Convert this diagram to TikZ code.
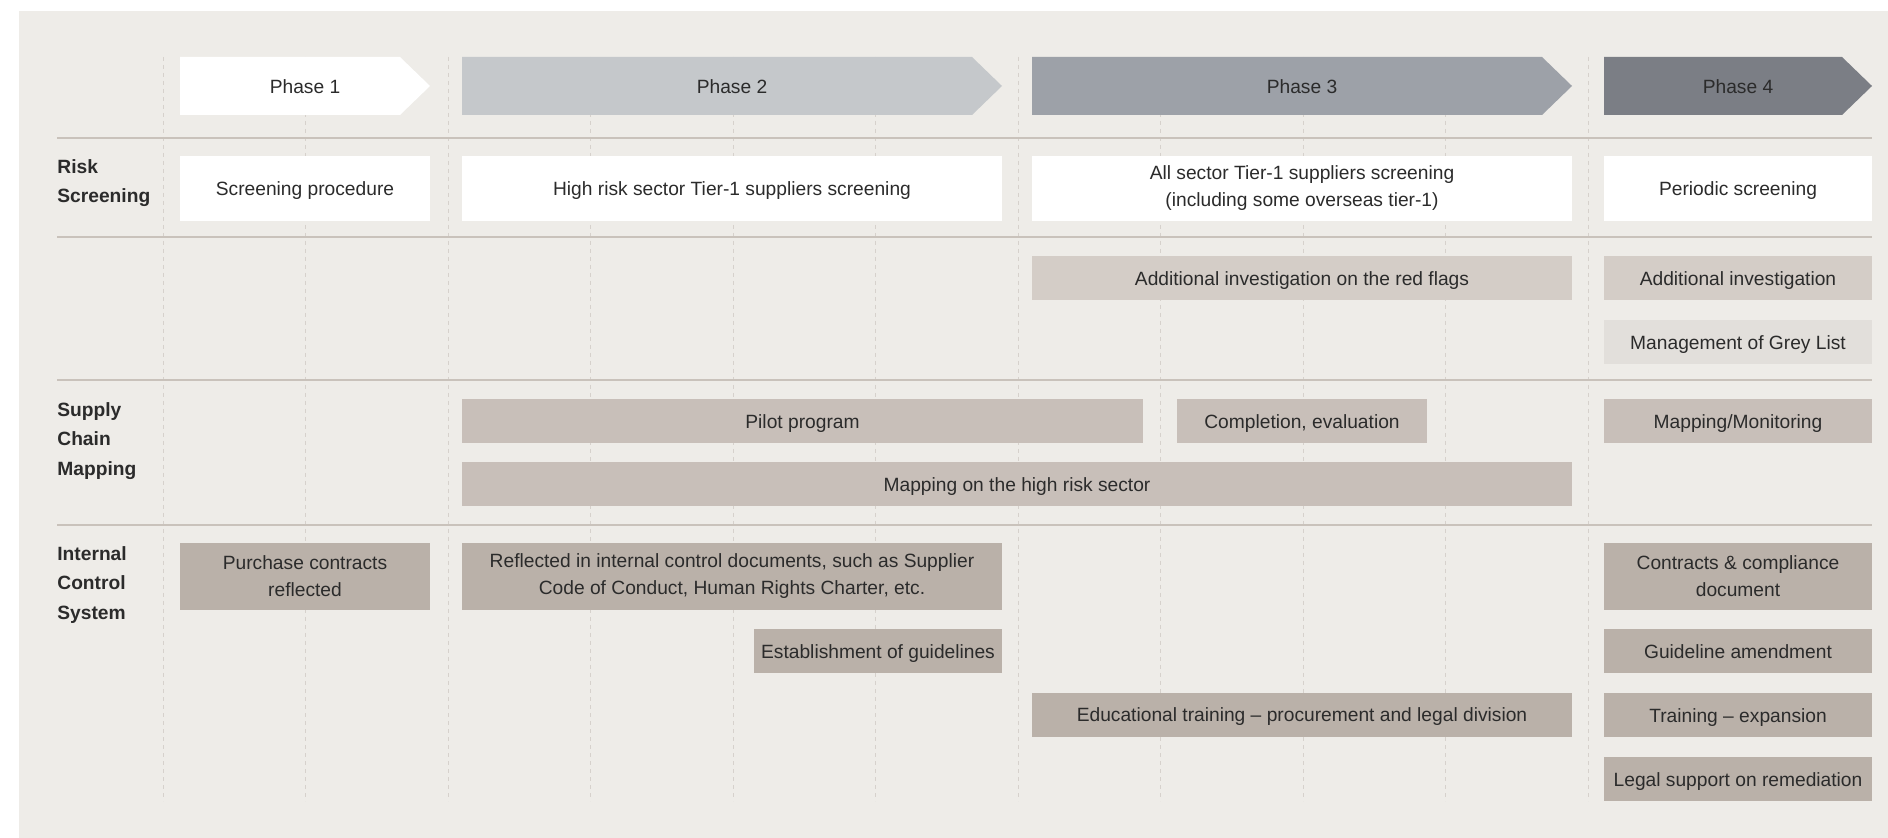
\documentclass[tikz,border=0pt]{standalone}
\usepackage{fontspec}
\setmainfont{Liberation Sans}
\usetikzlibrary{positioning}

\definecolor{bgc}{HTML}{EEECE8}
\definecolor{ink}{HTML}{2B2B2B}
\definecolor{phb}{HTML}{C5C8CB}
\definecolor{phc}{HTML}{9DA1A8}
\definecolor{phd}{HTML}{7B7E85}
\definecolor{ctrl}{HTML}{BAB1A9}
\definecolor{mapc}{HTML}{C8BFB9}
\definecolor{invc}{HTML}{D4CDC7}
\definecolor{greyc}{HTML}{E2DFDB}
\definecolor{rulec}{HTML}{C9C2BB}
\definecolor{gridc}{HTML}{D6D1CC}

\begin{document}
\begin{tikzpicture}[x=0.5pt,y=-0.5pt,node distance=9.5pt,text=ink,
    font=\fontsize{9.6}{13.5}\selectfont]
       \tikzstyle{cell}=[rectangle,inner xsep=2pt,inner ysep=0pt,minimum height=22pt,align=center,
         text height=7.4pt,text depth=0pt]
       \tikzstyle{twoline}=[text height=,text depth=]
       \tikzstyle{scr}=[cell,fill=white,minimum height=32.5pt]
       \tikzstyle{ctl}=[cell,fill=ctrl]
       \tikzstyle{map}=[cell,fill=mapc]
       \tikzstyle{inv}=[cell,fill=invc]
       \tikzstyle{phlabel}=[text height=7.2pt,text depth=0pt]
       \tikzstyle{rowlabel}=[anchor=north west,inner sep=0pt,align=left,
         font=\bfseries\fontsize{9.6}{14.75}\selectfont]
       \tikzstyle{grid}=[gridc,line width=0.5pt,dash pattern=on 2pt off 2pt]
       \tikzstyle{rule}=[rulec,line width=0.8pt]

       \useasboundingbox (0,0) rectangle (1888,838);
       \fill[bgc] (19,11) rectangle (1888,838);

       \foreach \i in {0,...,10}
         \draw[grid] ({163+142.5*\i},57) -- ({163+142.5*\i},801);
       \foreach \y in {138,237,380,525}
         \draw[rule] (57,\y) -- (1872,\y);

       \foreach \n/\a/\b/\c in {1/180/430/white,2/462/1002/phb,3/1032/1572/phc,4/1604/1872/phd}{
         \fill[\c] (\a,57) -- (\b-30,57) -- (\b,86) -- (\b-30,115) -- (\a,115) -- cycle;
         \node[phlabel] (ph\n) at ({(\a+\b)/2},86) {Phase \n};
       }

       \node[rowlabel] (risk)   at (57,159) {Risk\\Screening};
       \node[rowlabel] (supply) at (57,402) {Supply\\Chain\\Mapping};
       \node[rowlabel] (icsys)  at (57,546) {Internal\\Control\\System};

       \node[scr,minimum width=125pt] (scr1) at (305,188.5) {Screening procedure};
       \node[scr,minimum width=270pt] (scr2) at (732,188.5) {High risk sector Tier-1 suppliers screening};
       \node[scr,twoline,minimum width=270pt] (scr3) at (1302,188.5) {All sector Tier-1 suppliers screening\\(including some overseas tier-1)};
       \node[scr,minimum width=134pt] (scr4) at (1738,188.5) {Periodic screening};

       \node[inv,minimum width=270pt] (inv3) at (1302,278) {Additional investigation on the red flags};
       \node[inv,minimum width=134pt] (inv4) at (1738,278) {Additional investigation};
       \node[cell,fill=greyc,minimum width=134pt] (grey4) [below=of inv4] {Management of Grey List};

       \node[map,minimum width=340.5pt] (pilot) at (802.5,421) {Pilot program};
       \node[map,minimum width=125pt] (compl) at (1302,421) {Completion, evaluation};
       \node[map,minimum width=134pt] (mon4) at (1738,421) {Mapping/Monitoring};
       \node[map,minimum width=555pt] (hrmap) at (1017,484) {Mapping on the high risk sector};

       \node[ctl,twoline,minimum width=125pt,minimum height=33.5pt] (purch) at (305,576.5) {Purchase contracts\\reflected};
       \node[ctl,twoline,minimum width=270pt,minimum height=33.5pt] (refl) at (732,576.5) {Reflected in internal control documents, such as Supplier\\Code of Conduct, Human Rights Charter, etc.};
       \node[ctl,twoline,minimum width=134pt,minimum height=33.5pt] (contr4) at (1738,576.5) {Contracts \& compliance\\document};
       \node[ctl,minimum width=124pt] (guide) at (878,651) {Establishment of guidelines};
       \node[ctl,minimum width=270pt] (edu) at (1302,714.5) {Educational training -- procurement and legal division};
       \node[ctl,minimum width=134pt] (guide4) at (1738,651) {Guideline amendment};
       \node[ctl,minimum width=134pt] (train4) [below=of guide4] {Training -- expansion};
       \node[ctl,minimum width=134pt] (legal4) [below=of train4] {Legal support on remediation};
\end{tikzpicture}
\end{document}
